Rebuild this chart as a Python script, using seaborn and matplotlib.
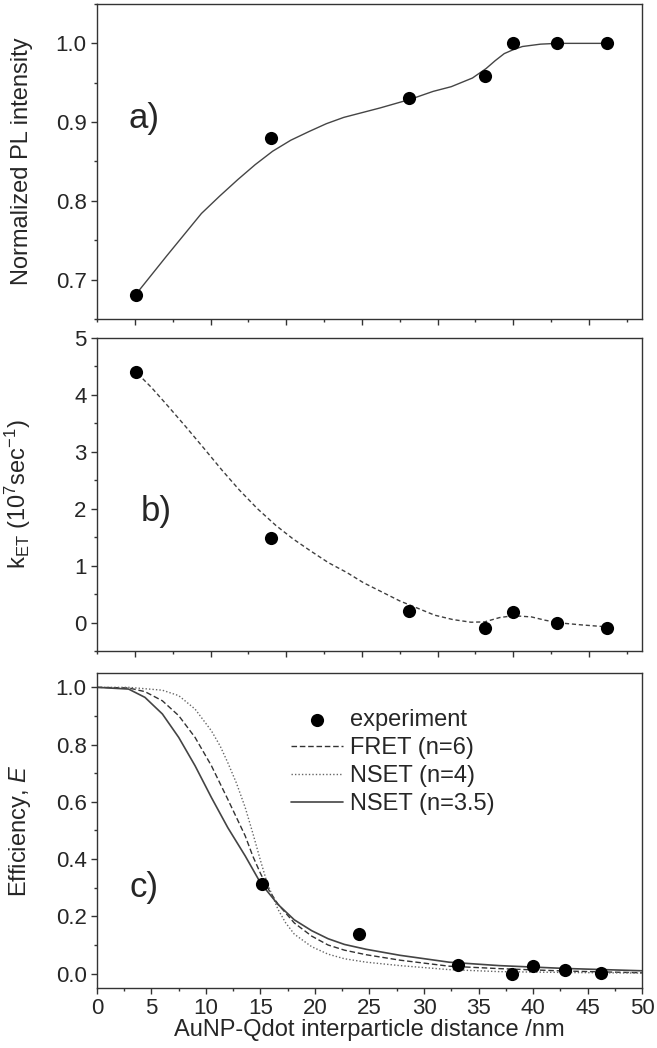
import matplotlib
matplotlib.use('Agg')
import matplotlib.pyplot as plt
from matplotlib.ticker import MultipleLocator
import seaborn as sns

# measured points (shared interparticle distance, nm)
DIST = [15.1, 24.0, 33.1, 38.1, 40.0, 42.9, 46.2]
PL_INT = [0.681, 0.880, 0.930, 0.959, 1.0, 1.0, 1.0]
K_ET = [4.41, 1.48, 0.20, -0.09, 0.18, 0.0, -0.09]
EFF = [0.314, 0.138, 0.030, 0.0, 0.027, 0.011, 0.001]

# guide curve through panel a
A_FIT_X = [15.1, 17.1, 18.25, 19.4, 20.6, 21.8, 22.95, 24.1, 25.3, 26.5, 27.65, 28.8, 30.0, 31.2,
           33.2, 34.7, 35.9, 37.3, 38.2, 38.8, 39.4, 40.0, 40.6, 41.8, 42.9, 46.3]
A_FIT_Y = [0.682, 0.730, 0.757, 0.784, 0.806, 0.827, 0.846, 0.863, 0.877, 0.888, 0.898, 0.906, 0.912, 0.918,
           0.929, 0.939, 0.945, 0.956, 0.968, 0.978, 0.987, 0.992, 0.996, 0.999, 1.0, 1.0]

# guide curve through panel b
B_FIT_X = [15.2, 16.1, 17.2, 18.4, 19.6, 20.75, 21.9, 23.1, 24.3, 25.45, 26.6, 27.8, 29.0, 30.1, 31.3,
           32.5, 33.7, 34.8, 36.0, 37.2, 38.1, 39.1, 40.0, 41.2, 42.1, 43.05, 44.5, 46.2]
B_FIT_Y = [4.37, 4.13, 3.80, 3.43, 3.05, 2.68, 2.33, 2.00, 1.71, 1.47, 1.26, 1.05, 0.88, 0.70, 0.54,
           0.38, 0.25, 0.13, 0.053, 0.006, 0.012, 0.088, 0.12, 0.099, 0.041, -0.006, -0.041, -0.076]

# model curves in panel c
C6_X = [0, 2.9, 4.4, 6.0, 7.5, 9.0, 10.5, 12.0, 13.6, 14.3, 15.0, 15.8, 16.6, 18.1, 19.7, 21.2, 22.7,
        24.7, 27.8, 32.3, 36.9, 43.0, 50]
FRET6 = [1.0, 0.998, 0.985, 0.953, 0.901, 0.825, 0.726, 0.609, 0.481, 0.41, 0.35, 0.29, 0.243, 0.177, 0.131,
         0.10, 0.082, 0.066, 0.047, 0.026, 0.0175, 0.009, 0.003]
C35_X = [0, 2.9, 4.4, 6.0, 7.5, 9.0, 10.5, 12.0, 13.6, 15.0, 16.6, 18.1, 19.7, 21.2, 22.7, 24.7, 27.8,
         32.3, 36.9, 43.0, 50]
NSET35 = [1.0, 0.994, 0.965, 0.907, 0.825, 0.726, 0.615, 0.510, 0.411, 0.317, 0.242, 0.188, 0.150, 0.122,
          0.102, 0.085, 0.064, 0.040, 0.028, 0.018, 0.010]
C4_X = [0, 2.9, 6.0, 7.5, 9.0, 10.5, 11.3, 12.0, 12.8, 13.6, 14.3, 15.0, 15.6, 16.6, 17.3, 18.1, 19.7,
        21.2, 22.7, 24.7, 27.8, 32.3, 36.9, 43.0, 50]
NSET4 = [1.0, 1.0, 0.99, 0.971, 0.924, 0.848, 0.795, 0.737, 0.665, 0.580, 0.490, 0.395, 0.318, 0.225, 0.178,
         0.138, 0.094, 0.068, 0.052, 0.040, 0.028, 0.014, 0.007, 0.004, 0.002]

sns.set_style('ticks')
plt.rcParams['font.family'] = ['Liberation Sans', 'DejaVu Sans']
plt.rcParams['mathtext.fontset'] = 'custom'
plt.rcParams['mathtext.rm'] = 'Liberation Sans'
plt.rcParams['mathtext.it'] = 'Liberation Sans:italic'

FS_TICK = 16
FS_LABEL = 17
FS_LEG = 17
FS_PANEL = 25
SPINE = '#333333'

fig = plt.figure(figsize=(6.57, 10.48), dpi=100)
left, width = 0.1476, 0.8296
ax_a = fig.add_axes([left, 0.6956, width, 0.3006])
ax_b = fig.add_axes([left, 0.3788, width, 0.2987])
ax_c = fig.add_axes([left, 0.0573, width, 0.3005])


def style(ax):
    for s in ax.spines.values():
        s.set_color(SPINE)
        s.set_linewidth(1.0)
    ax.tick_params(which='both', direction='out', color=SPINE, width=1.0,
                   labelsize=FS_TICK, top=False, right=False)
    ax.tick_params(which='major', length=4.3, pad=3.2)
    ax.tick_params(which='minor', length=2.5)
    ax.xaxis.set_major_locator(MultipleLocator(5))
    ax.xaxis.set_minor_locator(MultipleLocator(2.5))


# panel a
sns.lineplot(x=A_FIT_X, y=A_FIT_Y, ax=ax_a, color='#454545', lw=1.0, estimator=None, sort=False)
sns.scatterplot(x=DIST, y=PL_INT, ax=ax_a, color='black', s=90, linewidth=0, zorder=3)
ax_a.set_xlim(12.5, 48.5)
ax_a.set_ylim(0.65, 1.05)
ax_a.yaxis.set_major_locator(MultipleLocator(0.1))
ax_a.yaxis.set_minor_locator(MultipleLocator(0.05))
style(ax_a)
ax_a.tick_params(axis='x', labelbottom=False)
ax_a.set_ylabel('Normalized PL intensity', fontsize=FS_LABEL)
ax_a.text(14.6, 0.905, 'a)', fontsize=FS_PANEL, va='center', ha='left')

# panel b
sns.lineplot(x=B_FIT_X, y=B_FIT_Y, ax=ax_b, color='#404040', lw=1.0, estimator=None, sort=False,
             linestyle=(0, (3, 2)))
sns.scatterplot(x=DIST, y=K_ET, ax=ax_b, color='black', s=90, linewidth=0, zorder=3)
ax_b.set_xlim(12.5, 48.5)
ax_b.set_ylim(-0.5, 5)
ax_b.yaxis.set_major_locator(MultipleLocator(1))
ax_b.yaxis.set_minor_locator(MultipleLocator(0.5))
style(ax_b)
ax_b.tick_params(axis='x', labelbottom=False)
ax_b.set_ylabel(r'k$_{\mathrm{ET}}$ (10$^{7}$sec$^{-1}$)', fontsize=FS_LABEL)
ax_b.text(15.4, 1.95, 'b)', fontsize=FS_PANEL, va='center', ha='left')

# panel c
sns.lineplot(x=C6_X, y=FRET6, ax=ax_c, color='#333333', lw=1.0, estimator=None, sort=False,
             linestyle=(0, (4, 2)), label='FRET (n=6)')
sns.lineplot(x=C4_X, y=NSET4, ax=ax_c, color='#666666', lw=1.0, estimator=None, sort=False,
             linestyle=(0, (1, 1.5)), label='NSET (n=4)')
sns.lineplot(x=C35_X, y=NSET35, ax=ax_c, color='#444444', lw=1.2, estimator=None, sort=False,
             label='NSET (n=3.5)')
sns.scatterplot(x=DIST, y=EFF, ax=ax_c, color='black', s=90, linewidth=0, zorder=3, label='experiment')
ax_c.set_xlim(0, 50)
ax_c.set_ylim(-0.05, 1.05)
ax_c.yaxis.set_major_locator(MultipleLocator(0.2))
ax_c.yaxis.set_minor_locator(MultipleLocator(0.1))
style(ax_c)
ax_c.set_xlabel('AuNP-Qdot interparticle distance /nm', fontsize=FS_LABEL, labelpad=0)
ax_c.set_ylabel('Efficiency, $E$', fontsize=FS_LABEL)
ax_c.text(3.0, 0.30, 'c)', fontsize=FS_PANEL, va='center', ha='left')

order = ['experiment', 'FRET (n=6)', 'NSET (n=4)', 'NSET (n=3.5)']
h, l = ax_c.get_legend_handles_labels()
hd = dict(zip(l, h))
ax_c.legend([hd[k] for k in order], order, loc='upper left', bbox_to_anchor=(0.356, 0.885),
            frameon=False, fontsize=FS_LEG, handlelength=2.2, handletextpad=0.3,
            labelspacing=0.25, borderaxespad=0, borderpad=0)

for ax in (ax_a, ax_b, ax_c):
    ax.yaxis.set_label_coords(-0.118, 0.5)

fig.savefig('out.png', dpi=100)
